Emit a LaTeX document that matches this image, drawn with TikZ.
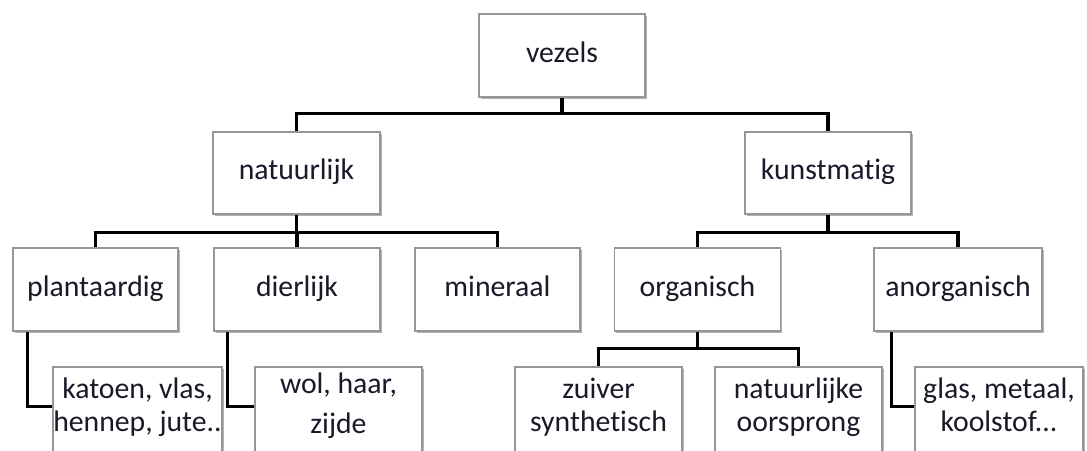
\documentclass[tikz,border=0pt]{standalone}
\usepackage{fontspec}
\setmainfont{Carlito}[Ligatures={NoCommon}]
\usetikzlibrary{shadows,calc}
\definecolor{boxline}{RGB}{150,150,150}
\definecolor{ink}{RGB}{25,25,40}
\tikzset{
  box/.style={draw=boxline, line width=1.1pt, fill=white, rectangle,
    inner sep=0pt, align=center, text=ink,
    font=\fontsize{22.3}{24.5}\selectfont,
    execute at begin node=\strut, execute at end node=\strut,
    drop shadow={shadow xshift=1.2pt, shadow yshift=-1.2pt, opacity=0.3, fill=black}},
  conn/.style={draw=black, line width=2.6pt, line join=miter}
}
\begin{document}
\begin{tikzpicture}[x=0.75pt,y=-0.75pt]
\useasboundingbox (0,0) rectangle (1087,450);

% top level
\node[box, minimum width=166*0.75pt, minimum height=83*0.75pt] (vezels) at (562,55.5) {vezels};

% second level
\node[box, minimum width=167*0.75pt, minimum height=82*0.75pt] (natuurlijk) at (296.5,173) {natuurlijk};
\node[box, minimum width=166*0.75pt, minimum height=82*0.75pt] (kunstmatig) at (828,173) {kunstmatig};

% third level
\node[box, minimum width=165*0.75pt, minimum height=83*0.75pt] (plantaardig) at (95.5,289.5) {plantaardig};
\node[box, minimum width=166*0.75pt, minimum height=83*0.75pt] (dierlijk) at (297,289.5) {dierlijk};
\node[box, minimum width=165*0.75pt, minimum height=83*0.75pt] (mineraal) at (497.5,289.5) {mineraal};
\node[box, minimum width=166*0.75pt, minimum height=83*0.75pt] (organisch) at (697.5,289.5) {organisch};
\node[box, minimum width=168*0.75pt, minimum height=83*0.75pt] (anorganisch) at (958,289.5) {anorganisch};

% bottom level (running off the lower edge)
\node[box, minimum width=169*0.75pt, minimum height=85*0.75pt] (katoen) at (137.5,409.5) {katoen, vlas,\\hennep, jute..};
\node[box, minimum width=167*0.75pt, minimum height=85*0.75pt, font=\fontsize{22.3}{30}\selectfont] (wol) at (338.5,409.5) {wol, haar,\\zijde};
\node[box, minimum width=167*0.75pt, minimum height=85*0.75pt] (zuiver) at (598.5,409.5) {zuiver\\synthetisch};
\node[box, minimum width=167*0.75pt, minimum height=85*0.75pt] (natorig) at (798.5,409.5) {natuurlijke\\oorsprong};
\node[box, minimum width=168*0.75pt, minimum height=85*0.75pt] (glas) at (999,409.5) {glas, metaal,\\koolstof...};

% tree connectors
\draw[conn] (vezels.south) -- ++(0,15.5) -| (natuurlijk.north);
\draw[conn] (vezels.south) -- ++(0,15.5) -| (kunstmatig.north);

\draw[conn] (natuurlijk.south) -- ++(0,18) -| (plantaardig.north);
\draw[conn] (natuurlijk.south) -- ++(0,18) -| (dierlijk.north);
\draw[conn] (natuurlijk.south) -- ++(0,18) -| (mineraal.north);

\draw[conn] (kunstmatig.south) -- ++(0,18) -| (organisch.north);
\draw[conn] (kunstmatig.south) -- ++(0,18) -| (anorganisch.north);

\draw[conn] (organisch.south) -- ++(0,17) -| (zuiver.north);
\draw[conn] (organisch.south) -- ++(0,17) -| (natorig.north);

% elbow links to the example boxes
\draw[conn] ($(plantaardig.south west)+(15,0)$) |- ($(katoen.west)+(0,-3)$);
\draw[conn] ($(dierlijk.south west)+(14,0)$) |- ($(wol.west)+(0,-3)$);
\draw[conn] ($(anorganisch.south west)+(18,0)$) |- ($(glas.west)+(0,-3)$);
\end{tikzpicture}
\end{document}
